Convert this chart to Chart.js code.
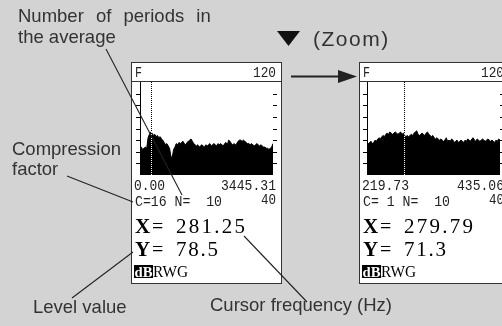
<!DOCTYPE html>
<html>
<head>
<meta charset="utf-8">
<script src="https://cdn.jsdelivr.net/npm/chart.js"></script>
<style>
  html, body { margin:0; padding:0; width:502px; height:326px; overflow:hidden; background:#d3d3d3; }
  .panel { position:absolute; box-sizing:border-box; border:1px solid #333; background:#fff; }
  canvas { position:absolute; }
  svg { position:absolute; left:0; top:0; }
  svg text { white-space: pre; }
</style>
</head>
<body>
<div class="panel" style="left:131px;top:62px;width:151px;height:222px"></div>
<div class="panel" style="left:359px;top:62px;width:151px;height:222px"></div>
<canvas id="leftChart" width="149" height="220" style="left:132px;top:63px"></canvas>
<canvas id="rightChart" width="149" height="220" style="left:360px;top:63px"></canvas>
<svg id="ov" width="502" height="326" xmlns="http://www.w3.org/2000/svg"></svg>
<script>
// ---- data ----
const levelMin = 40;
const levelMax = 120;
const levelTicks = [50, 60, 70, 80, 90, 100, 110];

const leftFreqRange = [0.00, 3445.31];
const leftCursorFreq = 281.25;
const leftCursorLevel = 78.5;
const leftCompression = 16;
const leftAverages = 10;
const leftLevels = [
  63, 64, 62, 63, 64, 63, 72, 75, 77, 76,
  74, 75, 73, 74, 72, 73, 71, 70, 68, 66,
  67, 65, 63, 56, 55, 62, 64, 67, 66, 68,
  67, 68, 69, 67, 66, 68, 69, 70, 71, 69,
  67, 66, 65, 66, 64, 65, 66, 65, 64, 66,
  65, 66, 67, 65, 66, 67, 66, 65, 67, 66,
  67, 66, 65, 67, 68, 66, 70, 69, 67, 66,
  67, 66, 67, 69, 70, 70, 69, 70, 69, 68,
  67, 67, 66, 67, 66, 65, 66, 67, 66, 65,
  66, 65, 64, 64, 63, 63, 62, 63, 64, 67
];

const rightFreqRange = [219.73, 435.06];
const rightCursorFreq = 279.79;
const rightCursorLevel = 71.3;
const rightCompression = 1;
const rightAverages = 10;
const rightLevels = [
  68, 67, 68, 69, 67, 68, 70, 69, 71, 72,
  71, 73, 74, 73, 75, 76, 75, 77, 76, 75,
  76, 77, 76, 75, 76, 77, 75, 76, 74, 73,
  74, 73, 74, 75, 74, 76, 77, 78, 75, 74,
  75, 76, 75, 74, 76, 77, 75, 74, 73, 74,
  72, 71, 72, 71, 70, 71, 70, 69, 70, 72,
  69, 70, 69, 71, 70, 68, 69, 70, 68, 69,
  70, 69, 68, 70, 69, 71, 70, 69, 71, 72,
  70, 69, 71, 70, 69, 70, 71, 70, 69, 70,
  71, 70, 69, 70, 69, 68, 70, 69, 71, 70
];

// ---- charts ----
function makeChart(id, levels, range, cursor, pad) {
  const pts = levels.map((v, i) => ({ x: range[0] + i * (range[1] - range[0]) / (levels.length - 1), y: v }));
  const deco = {
    id: 'deco',
    beforeDraw(chart) {
      const c = chart.ctx;
      c.save(); c.fillStyle = '#fff'; c.fillRect(0, 0, chart.width, chart.height); c.restore();
    },
    afterDatasetsDraw(chart) {
      const c = chart.ctx, a = chart.chartArea, xs = chart.scales.x, ys = chart.scales.y;
      c.save();
      c.strokeStyle = '#000'; c.lineWidth = 1;
      c.beginPath();
      c.moveTo(a.left + 0.5, a.top); c.lineTo(a.left + 0.5, a.bottom);
      levelTicks.forEach(t => {
        const py = Math.round(ys.getPixelForValue(t)) + 0.5;
        c.moveTo(a.left - 4, py); c.lineTo(a.left, py);
        c.moveTo(a.right, py); c.lineTo(a.right + 4, py);
      });
      c.stroke();
      const cx = Math.round(xs.getPixelForValue(cursor)) + 0.5;
      c.globalCompositeOperation = 'difference';
      c.strokeStyle = '#fff'; c.setLineDash([1, 1]);
      c.beginPath(); c.moveTo(cx, a.top); c.lineTo(cx, a.bottom); c.stroke();
      c.restore();
    }
  };
  return new Chart(document.getElementById(id), {
    type: 'line',
    data: { datasets: [{ data: pts, borderColor: '#000', backgroundColor: '#000', borderWidth: 1,
      pointRadius: 0, tension: 0, fill: 'start' }] },
    options: {
      responsive: false, animation: false, devicePixelRatio: 1,
      layout: { padding: pad },
      plugins: { legend: { display: false }, tooltip: { enabled: false } },
      scales: {
        x: { type: 'linear', min: range[0], max: range[1], display: false },
        y: { min: levelMin, max: levelMax, display: false }
      }
    },
    plugins: [deco]
  });
}
makeChart('leftChart', leftLevels, leftFreqRange, leftCursorFreq, { left: 8, top: 19, right: 8, bottom: 108 });
makeChart('rightChart', rightLevels, rightFreqRange, rightCursorFreq, { left: 7, top: 19, right: 9, bottom: 108 });

// ---- overlay text & lines ----
const NS = 'http://www.w3.org/2000/svg';
const ov = document.getElementById('ov');
function el(tag, attrs, txt) {
  const e = document.createElementNS(NS, tag);
  for (const k in attrs) e.setAttribute(k, attrs[k]);
  if (txt !== undefined) e.textContent = txt;
  ov.appendChild(e); return e;
}
const annot = { 'font-family': 'Liberation Sans, Arial, sans-serif', 'font-size': '18.5', fill: '#333' };
const mono = { 'font-family': 'Liberation Mono, monospace', 'font-size': '14.5', fill: '#222' };
const serif = { 'font-family': 'Liberation Serif, serif', fill: '#000' };
function t(x, y, s, base, extra) { return el('text', Object.assign({ x, y }, base, extra || {}), s); }
function m(x, y, s, extra) {
  return t(x, y, s, mono, Object.assign({ textLength: 8 * s.length - 1, lengthAdjust: 'spacingAndGlyphs' }, extra || {}));
}
function pad2(n) { return (n < 10 ? ' ' : '') + n; }

function panelText(px, fr, comp, avg, cf, cl) {
  el('line', { x1: px, y1: 81.5, x2: px + 151, y2: 81.5, stroke: '#333', 'stroke-width': 1 });
  m(px + 4, 77, 'F');
  m(px + 145, 77, String(levelMax), { 'text-anchor': 'end' });
  m(px + 3, 190, fr[0].toFixed(2));
  m(px + 145, 190, fr[1].toFixed(2), { 'text-anchor': 'end' });
  m(px + 4, 206, 'C=' + pad2(comp) + ' N=  ' + avg);
  m(px + 145, 204, String(levelMin), { 'text-anchor': 'end' });
  t(px + 4, 233, 'X', serif, { 'font-size': 21, 'font-weight': 'bold' });
  t(px + 21, 233, '=', serif, { 'font-size': 20 });
  t(px + 45, 233, cf.toFixed(2), serif, { 'font-size': 21, textLength: 69, lengthAdjust: 'spacing' });
  t(px + 4, 256, 'Y', serif, { 'font-size': 21, 'font-weight': 'bold' });
  t(px + 21, 256, '=', serif, { 'font-size': 20 });
  t(px + 45, 256, cl.toFixed(1), serif, { 'font-size': 21, textLength: 42, lengthAdjust: 'spacing' });
  el('rect', { x: px + 3, y: 265, width: 19, height: 13, fill: '#000' });
  t(px + 3.5, 277, 'dB', serif, { 'font-size': 15, 'font-weight': 'bold', fill: '#fff', textLength: 18, lengthAdjust: 'spacingAndGlyphs' });
  t(px + 22, 277, 'RWG', serif, { 'font-size': 17, textLength: 35, lengthAdjust: 'spacingAndGlyphs' });
}
panelText(131, leftFreqRange, leftCompression, leftAverages, leftCursorFreq, leftCursorLevel);
panelText(359, rightFreqRange, rightCompression, rightAverages, rightCursorFreq, rightCursorLevel);

// annotations
t(18, 22, 'Number of periods in', annot, { 'word-spacing': 7 });
t(18, 43, 'the average', annot);
t(12, 155, 'Compression', annot);
t(12, 175, 'factor', annot);
t(33, 313, 'Level value', annot);
t(210, 311, 'Cursor frequency (Hz)', annot);
el('polygon', { points: '277,31 300,31 288.5,46', fill: '#111' });
t(313, 46, '(Zoom)', annot, { 'font-size': 21, 'letter-spacing': 1.5 });
// zoom arrow
el('line', { x1: 291, y1: 76.5, x2: 342, y2: 76.5, stroke: '#222', 'stroke-width': 2.2 });
el('polygon', { points: '338,70 357,76.5 338,83', fill: '#222' });
// leader lines
const lead = { stroke: '#222', 'stroke-width': 1.1 };
el('line', Object.assign({ x1: 106, y1: 49, x2: 182, y2: 195 }, lead));
el('line', Object.assign({ x1: 67, y1: 176, x2: 133, y2: 202 }, lead));
el('line', Object.assign({ x1: 72, y1: 298, x2: 133, y2: 252 }, lead));
el('line', Object.assign({ x1: 244, y1: 236, x2: 307, y2: 302 }, lead));
</script>
</body>
</html>
